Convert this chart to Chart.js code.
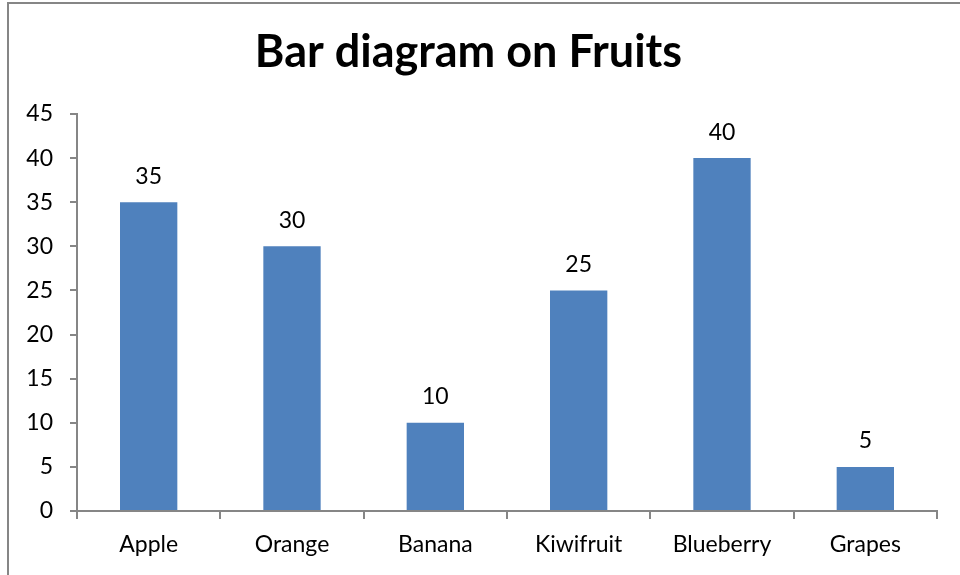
<!DOCTYPE html>
<html>
<head>
<meta charset="utf-8">
<script src="https://cdn.jsdelivr.net/npm/chart.js@4/dist/chart.umd.min.js"></script>
<style>
html, body { margin: 0; padding: 0; overflow: hidden; background: #fff; }
#wrap { position: relative; width: 975px; height: 575px; }
</style>
</head>
<body>
<div id="wrap"><canvas id="chart-area"></canvas></div>
<script>
var fruits = ['Apple', 'Orange', 'Banana', 'Kiwifruit', 'Blueberry', 'Grapes'];
var counts = [35, 30, 10, 25, 40, 5];
var yTicks = [0, 5, 10, 15, 20, 25, 30, 35, 40, 45];

var fontName = 'Lato, "Open Sans", sans-serif';
var axisGrey = '#868686';

// frame of the chart object (only left and top edges are visible)
var framePlugin = {
    id: 'frame',
    beforeDraw: function(chart) {
        var ctx = chart.ctx;
        ctx.save();
        ctx.strokeStyle = axisGrey;
        ctx.lineWidth = 2;
        ctx.beginPath();
        ctx.moveTo(8, chart.height);
        ctx.lineTo(8, 3);
        ctx.lineTo(chart.width, 3);
        ctx.stroke();
        ctx.restore();
    }
};

// value labels above each bar
var valueLabels = {
    id: 'valueLabels',
    afterDatasetsDraw: function(chart) {
        var ctx = chart.ctx;
        var meta = chart.getDatasetMeta(0);
        ctx.save();
        ctx.fillStyle = '#000';
        ctx.font = '23px ' + fontName;
        ctx.textAlign = 'center';
        ctx.textBaseline = 'middle';
        meta.data.forEach(function(bar, i) {
            ctx.fillText(counts[i], bar.x, bar.y - 26);
        });
        ctx.restore();
    }
};

var config = {
    type: 'bar',
    data: {
        labels: fruits,
        datasets: [{
            data: counts,
            backgroundColor: '#4F81BD',
            barPercentage: 0.4,
            categoryPercentage: 1.0
        }]
    },
    options: {
        responsive: true,
        maintainAspectRatio: false,
        animation: false,
        layout: { padding: { left: 0, right: 38, top: 0, bottom: 0 } },
        plugins: {
            legend: { display: false },
            tooltip: { enabled: false },
            title: {
                display: true,
                text: 'Bar diagram on Fruits',
                color: '#000',
                font: { family: fontName, size: 45, weight: 'bold', lineHeight: 1.2 },
                padding: { top: 25, bottom: 35 }
            }
        },
        scales: {
            x: {
                grid: {
                    display: true,
                    drawOnChartArea: false,
                    drawTicks: true,
                    tickLength: 8,
                    color: axisGrey,
                    lineWidth: 2,
                    offset: true
                },
                border: { display: true, color: axisGrey, width: 2 },
                ticks: {
                    color: '#000',
                    font: { family: fontName, size: 23 },
                    padding: 12,
                    maxRotation: 0
                },
                afterFit: function(scale) { scale.height = 64; }
            },
            y: {
                min: 0,
                max: 45,
                afterBuildTicks: function(scale) {
                    scale.ticks = yTicks.map(function(v) { return { value: v }; });
                },
                grid: {
                    display: true,
                    drawOnChartArea: false,
                    drawTicks: true,
                    tickLength: 7,
                    color: axisGrey,
                    lineWidth: 2
                },
                border: { display: true, color: axisGrey, width: 2 },
                ticks: {
                    color: '#000',
                    font: { family: fontName, size: 23 },
                    padding: 17
                },
                afterFit: function(scale) { scale.width = 77; }
            }
        }
    },
    plugins: [framePlugin, valueLabels]
};

window.onload = function() {
    var ctx = document.getElementById('chart-area').getContext('2d');
    window.myBar = new Chart(ctx, config);
};
</script>
</body>
</html>
